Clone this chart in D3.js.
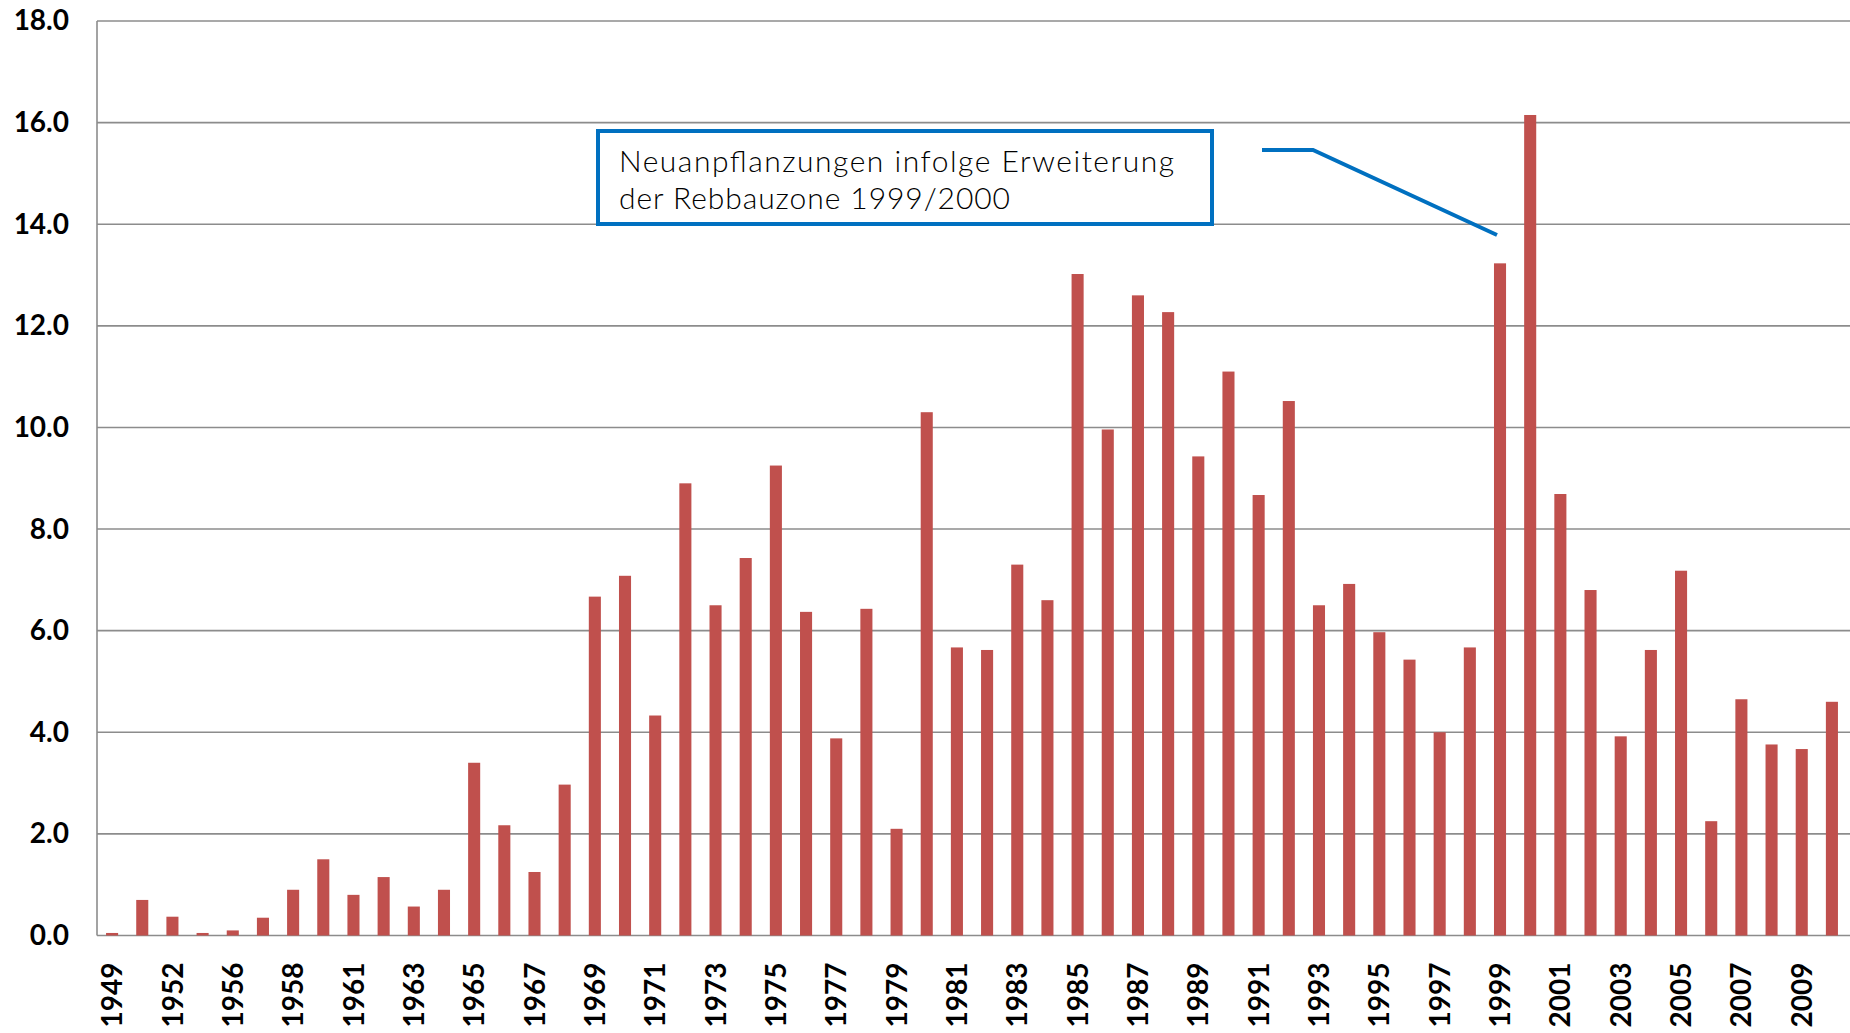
<!DOCTYPE html>
<html>
<head>
<meta charset="utf-8">
<script src="https://cdn.jsdelivr.net/npm/d3@7"></script>
<style>
  html, body { margin: 0; padding: 0; background: #fff; }
</style>
</head>
<body>
<svg width="1850" height="1033"></svg>
<script>
// categories (years as in the source table, some early years missing)
var years = ["1949","1950","1952","1954","1956","1957","1958","1959","1961","1962",
  "1963","1964","1965","1966","1967","1968","1969","1970","1971","1972",
  "1973","1974","1975","1976","1977","1978","1979","1980","1981","1982",
  "1983","1984","1985","1986","1987","1988","1989","1990","1991","1992",
  "1993","1994","1995","1996","1997","1998","1999","2000","2001","2002",
  "2003","2004","2005","2006","2007","2008","2009","2010"];

// series values
var values = [0.05, 0.70, 0.37, 0.05, 0.10, 0.35, 0.90, 1.50, 0.80, 1.15,
  0.57, 0.90, 3.40, 2.17, 1.25, 2.97, 6.67, 7.08, 4.33, 8.90,
  6.50, 7.43, 9.25, 6.37, 3.88, 6.43, 2.10, 10.30, 5.67, 5.62,
  7.30, 6.60, 13.02, 9.96, 12.60, 12.27, 9.43, 11.10, 8.67, 10.52,
  6.50, 6.92, 5.97, 5.43, 4.00, 5.67, 13.23, 16.15, 8.69, 6.80,
  3.92, 5.62, 7.18, 2.25, 4.65, 3.76, 3.67, 4.60];

// y tick values
var yTicks = [0, 2, 4, 6, 8, 10, 12, 14, 16, 18];

// x tick labels shown (every second category)
var xTickLabels = years.filter(function(d, i) { return i % 2 === 0; });

var annotationLines = ["Neuanpflanzungen infolge Erweiterung", "der Rebbauzone 1999/2000"];

var svg = d3.select("svg");
var plotLeft = 97, plotRight = 1847, plotTop = 21, plotBottom = 935.5;

var x = d3.scaleBand().domain(years).range([plotLeft, plotRight]).paddingInner(0.6).paddingOuter(0.3);
var y = d3.scaleLinear().domain([0, 18]).range([plotBottom, plotTop]);

// gridlines
svg.append("g")
  .selectAll("line")
  .data(yTicks)
  .enter()
  .append("line")
  .attr("x1", plotLeft)
  .attr("x2", plotRight + 3)
  .attr("y1", function(d) { return y(d); })
  .attr("y2", function(d) { return y(d); })
  .style("stroke", "#8c8c8c")
  .style("stroke-width", 1.6);

// left axis line
svg.append("line")
  .attr("x1", plotLeft).attr("x2", plotLeft)
  .attr("y1", plotTop).attr("y2", plotBottom)
  .style("stroke", "#8c8c8c")
  .style("stroke-width", 1.6);

// y labels
var yAxis = svg.append("g")
  .attr("transform", "translate(" + plotLeft + ",0)")
  .call(d3.axisLeft(y).tickValues(yTicks).tickSize(0).tickPadding(28).tickFormat(d3.format(".1f")));
yAxis.select(".domain").remove();
yAxis.selectAll("text")
  .style("font-family", "Lato, 'DejaVu Sans', sans-serif")
  .style("font-weight", "bold")
  .style("font-size", "28px")
  .style("fill", "#000");

// bars
svg.append("g")
  .selectAll("rect")
  .data(values)
  .enter()
  .append("rect")
  .attr("x", function(d, i) { return x(years[i]); })
  .attr("y", function(d) { return y(d); })
  .attr("width", x.bandwidth())
  .attr("height", function(d) { return plotBottom - y(d); })
  .style("fill", "#C0504D");

// x labels
var xAxis = svg.append("g")
  .attr("transform", "translate(0," + plotBottom + ")")
  .call(d3.axisBottom(x).tickValues(xTickLabels).tickSize(0));
xAxis.select(".domain").remove();
xAxis.selectAll("text")
  .attr("transform", "rotate(-90)")
  .attr("text-anchor", "end")
  .attr("x", -27)
  .attr("y", 0)
  .attr("dy", "0.36em")
  .style("font-family", "Lato, 'DejaVu Sans', sans-serif")
  .style("font-weight", "bold")
  .style("font-size", "28px")
  .style("fill", "#000");

// annotation box
svg.append("rect")
  .attr("x", 598)
  .attr("y", 131)
  .attr("width", 614)
  .attr("height", 93)
  .style("fill", "#fff")
  .style("stroke", "#0070C0")
  .style("stroke-width", 4);

var annoWidths = [555, 391];
svg.append("g")
  .selectAll("text")
  .data(annotationLines)
  .enter()
  .append("text")
  .attr("x", 619)
  .attr("y", function(d, i) { return 172 + i * 37; })
  .attr("textLength", function(d, i) { return annoWidths[i]; })
  .attr("lengthAdjust", "spacing")
  .style("font-family", "Lato, 'Open Sans', sans-serif")
  .style("font-weight", 300)
  .style("font-size", "30px")
  .style("fill", "#000")
  .text(function(d) { return d; });

// leader line to the 1999 bar
svg.append("path")
  .attr("d", "M1262,150 L1313,150 L1497,235")
  .style("fill", "none")
  .style("stroke", "#0070C0")
  .style("stroke-width", 4);
</script>
</body>
</html>
